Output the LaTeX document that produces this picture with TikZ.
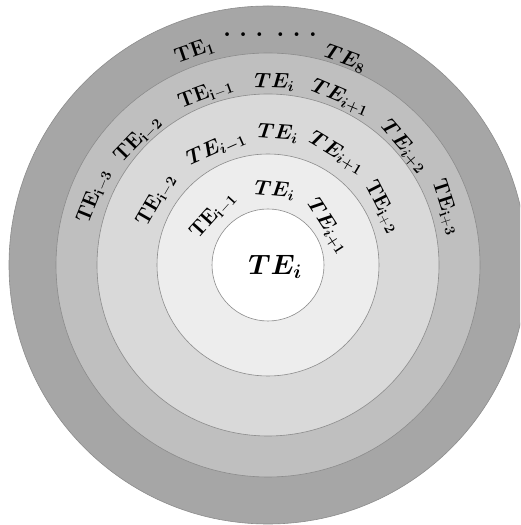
\RequirePackage{fix-cm}
\documentclass[tikz,border=0pt]{standalone}
\usepackage{amsmath,bm}
\tikzset{
  lbl/.style={inner sep=0pt,font=\fontsize{21}{24}\selectfont},
  ring/.style={draw=gray!90,line width=0.6pt},
}
\newcommand{\teup}[1]{$\mathbf{TE}_{\mathbf{#1}}$}
\newcommand{\teit}[1]{$\bm{TE_{#1}}$}
\begin{document}
\begin{tikzpicture}[x=1pt,y=1pt]
  \useasboundingbox (0,0) rectangle (520,525);
  \clip (0,0) rectangle (520,525);
  \begin{scope}[shift={(268,260)}]
    \coordinate (c) at (0,0);
    % the rings, outside in
    \draw[ring,fill=black!35] (c) circle[radius=259];
    \draw[ring,fill=black!25] (c) circle[radius=212];
    \draw[ring,fill=black!15] (c) circle[radius=171];
    \draw[ring,fill=black!7] (c) circle[radius=111];
    \draw[ring,fill=white] (c) circle[radius=56];
    % centre
    \node[lbl,font=\fontsize{28}{32}\selectfont] (core) at (7,-2) {\teit{i}};
    % first ring
    \node[lbl,rotate=48] (a1) at (138:74) {\teup{i-1}};
    \node[lbl,rotate=-5] (a2) at (85:75) {\teit{i}};
    \node[lbl,rotate=-57] (a3) at (33:71) {\teit{i+1}};
    % second ring
    \node[lbl,rotate=60] (b1) at (150:129) {\teup{i-2}};
    \node[lbl,rotate=24] (b2) at (114:127) {\teit{i-1}};
    \node[lbl,rotate=-4] (b3) at (85.7:132) {\teit{i}};
    \node[lbl,rotate=-31] (b4) at (58.5:131) {\teit{i+1}};
    \node[lbl,rotate=-63] (b5) at (27:128) {\teup{i+2}};
    % third ring
    \node[lbl,rotate=68] (d1) at (158.5:187) {\teup{i-3}};
    \node[lbl,rotate=46] (d2) at (136:181) {\teup{i-2}};
    \node[lbl,rotate=20] (d3) at (110:182) {\teup{i-1}};
    \node[lbl,rotate=-2] (d4) at (88:183) {\teit{i}};
    \node[lbl,rotate=-23] (d5) at (66.7:182) {\teit{i+1}};
    \node[lbl,rotate=-49] (d6) at (41:180) {\teit{i+2}};
    \node[lbl,rotate=-72] (d7) at (18:187) {\teup{i+3}};
    % outer ring
    \node[lbl,rotate=19] (e1) at (109:226) {\teup{1}};
    \node[lbl,font=\fontsize{26}{28}\selectfont] (dots) at (2,230) {\bfseries .\hspace{8pt}.\hspace{8pt}.\hspace{13pt}.\hspace{8pt}.\hspace{8pt}.};
    \node[lbl,rotate=-20] (e8) at (69.5:220) {\teit{8}};
  \end{scope}
\end{tikzpicture}
\end{document}
